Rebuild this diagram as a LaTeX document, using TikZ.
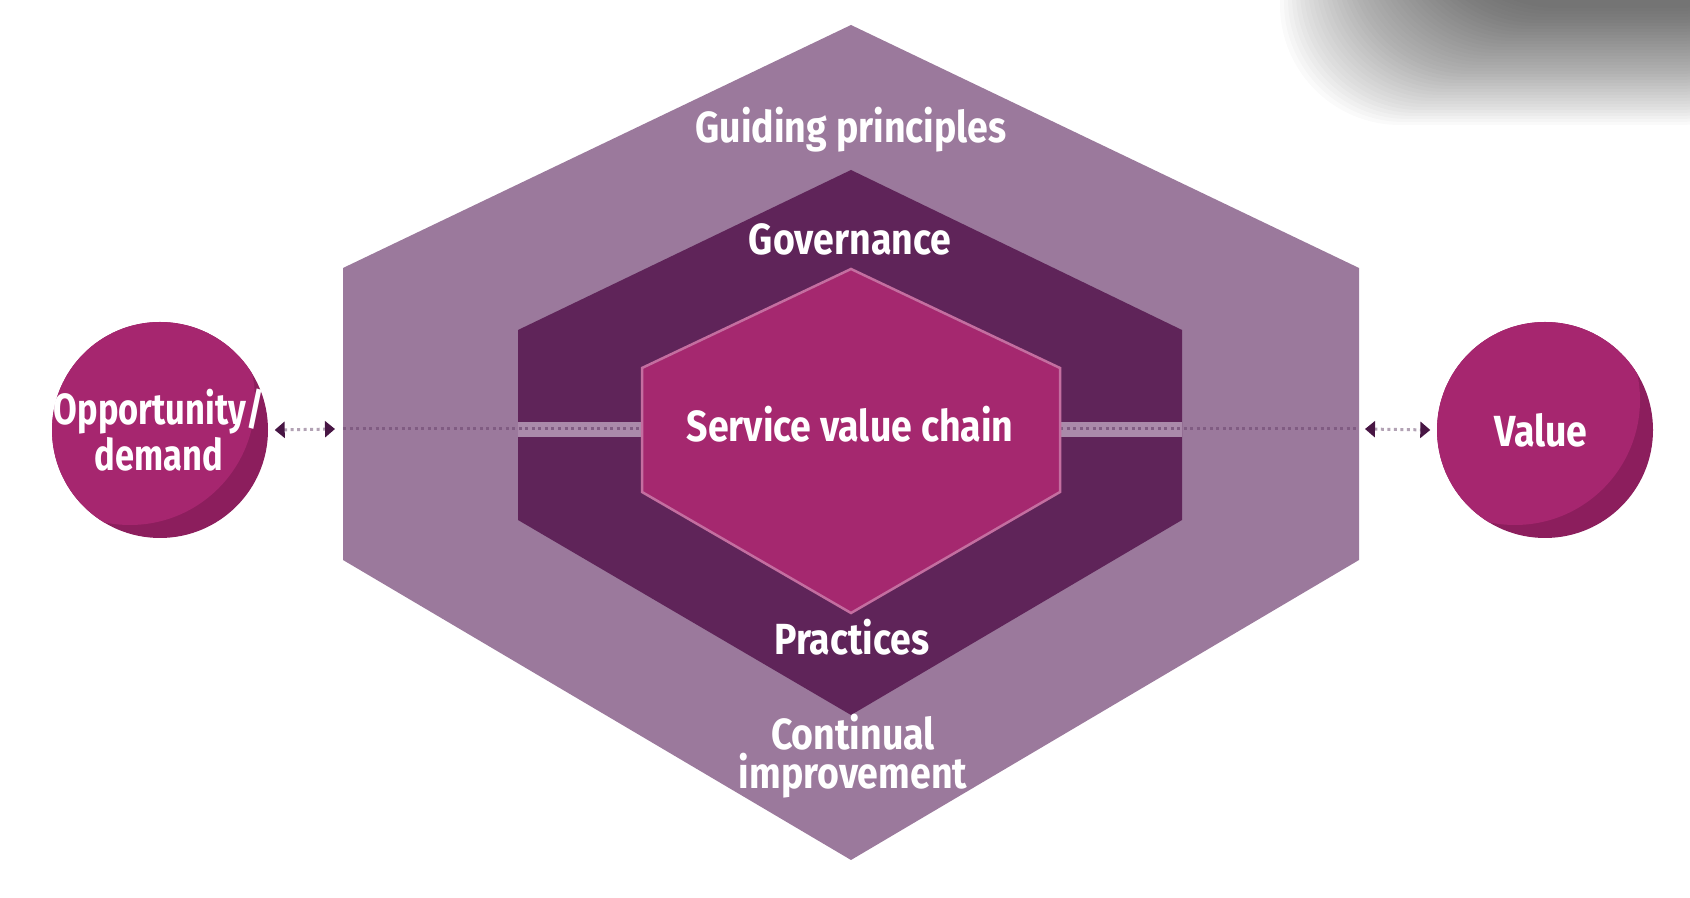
\documentclass[tikz,border=0pt]{standalone}
\usepackage{fontspec}
\newfontfamily\lblfont{Fira Sans}[FakeStretch=0.86]
\newfontfamily\ballfont{Fira Sans}[FakeStretch=0.79]
\usetikzlibrary{arrows.meta}
\definecolor{outerhex}{RGB}{155,121,156}
\definecolor{midhex}{RGB}{95,36,89}
\definecolor{innerhex}{RGB}{165,40,111}
\definecolor{innerrim}{RGB}{196,110,160}
\definecolor{bandstrip}{RGB}{170,138,170}
\definecolor{bandline}{RGB}{128,92,130}
\definecolor{ballmain}{RGB}{166,38,111}
\definecolor{ballshade}{RGB}{140,30,93}
\definecolor{tipdark}{RGB}{72,22,68}
\definecolor{dotgray}{RGB}{178,162,180}
\tikzset{
  lbl/.style={text=white, inner sep=0pt, align=center,
    font=\lblfont\bfseries\fontsize{12.4}{8.3}\selectfont},
  ball/.style={circle, minimum size=21.6mm, inner sep=0pt, fill=ballshade,
    path picture={\fill[ballmain] ([xshift=-3mm,yshift=3mm]path picture bounding box.center) circle (12.5mm);}},
  link/.style={{Triangle[length=1mm,width=1.6mm,color=tipdark]}-{Triangle[length=1mm,width=1.6mm,color=tipdark]},
    dotgray, line width=0.3mm, densely dotted}
}
\begin{document}
\begin{tikzpicture}[x=0.1mm, y=-0.1mm]
    \useasboundingbox (0,0) rectangle (1690,898);
    % shadow in the top right corner
    \begin{scope}
        \clip (0,0) rectangle (1690,898);
        \foreach \i in {0,...,39}
            \fill[black, opacity=0.02, rounded corners=12mm] (1280+\i*4,-150) rectangle (1800,125-\i*3);
    \end{scope}

    \fill[outerhex] (851,25) -- (1359,268) -- (1359,560) -- (851,860) -- (343,560) -- (343,268) -- cycle;
    \fill[midhex] (851,170) -- (1182,330) -- (1182,520) -- (851,715) -- (518,520) -- (518,330) -- cycle;
    \coordinate (gl) at (343,429);
    \coordinate (gr) at (1359,429);
    \coordinate (sl) at (642,429);
    \coordinate (sr) at (1060,429);
    \fill[bandstrip] (518,422) rectangle (sl |- 0,437);
    \fill[bandstrip] (sr |- 0,422) rectangle (1182,437);
    \draw[bandline, line width=0.3mm, densely dotted] (gl) -- (sl);
    \draw[bandline, line width=0.3mm, densely dotted] (sr) -- (gr);
    \filldraw[fill=innerhex, draw=innerrim, line width=0.25mm] (851,269) -- (1060,368) -- (1060,492) -- (851,613) -- (642,492) -- (642,368) -- cycle;

    \node[lbl, anchor=base] (gp) at (851,143) {Guiding principles};
    \node[lbl, anchor=base] (gov) at (850,255) {Governance};
    \node[lbl, anchor=base] (svc) at (850,442) {Service value chain};
    \node[lbl, anchor=base] (prac) at (852,655) {Practices};
    \node[lbl] (ci) at (853,756) {Continual\\improvement};

    \node[ball] (opp) at (160,430) {};
    \node[ball] (val) at (1545,430) {};
    \node[lbl, font=\ballfont\bfseries\fontsize{12.4}{10.8}\selectfont] (opptext) at ([xshift=-0.1mm]opp) {Opportunity/\\demand};
    \node[lbl] (valtext) at ([xshift=-0.4mm]val) {Value};

    \draw[link] ([xshift=0.6mm]opp.east) -- ([xshift=-0.8mm]gl);
    \draw[link] ([xshift=0.6mm]gr) -- ([xshift=-0.6mm]val.west);
\end{tikzpicture}
\end{document}
